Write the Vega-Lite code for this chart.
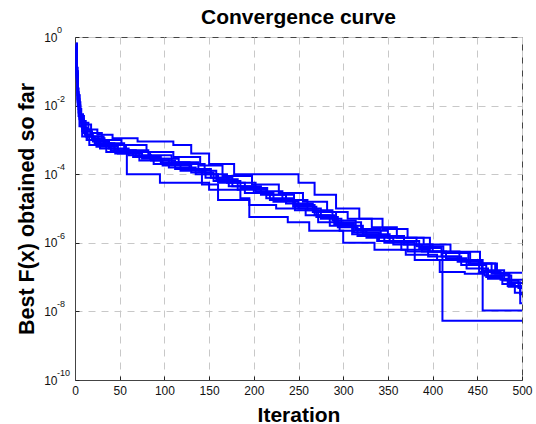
{
  "$schema": "https://vega.github.io/schema/vega-lite/v6.json",
  "width": 447,
  "height": 343,
  "autosize": "none",
  "padding": {"left": 75, "top": 37, "right": 14, "bottom": 44},
  "background": "white",
  "config": {
    "view": {"stroke": "#444444", "strokeWidth": 1},
    "font": "Liberation Sans"
  },
  "title": {
    "text": "Convergence curve",
    "font": "Liberation Sans",
    "fontSize": 21,
    "fontWeight": "bold",
    "color": "black",
    "anchor": "middle",
    "frame": "group",
    "baseline": "alphabetic",
    "offset": 8,
    "dy": 27
  },
  "datasets": {
    "runs": [
      {"run":1,"iter":1,"f":0.562},{"run":1,"iter":2,"f":0.0631},{"run":1,"iter":3,"f":0.0158},{"run":1,"iter":4,"f":0.00631},{"run":1,"iter":6,"f":0.00316},{"run":1,"iter":9,"f":0.00158},{"run":1,"iter":14,"f":0.001},{"run":1,"iter":28,"f":5.62e-4},{"run":1,"iter":45,"f":3.98e-4},{"run":1,"iter":72,"f":2.51e-4},{"run":1,"iter":98,"f":1.78e-4},{"run":1,"iter":130,"f":1.12e-4},{"run":1,"iter":155,"f":6.31e-5},{"run":1,"iter":185,"f":3.98e-5},{"run":1,"iter":215,"f":2.51e-5},{"run":1,"iter":245,"f":1.26e-5},{"run":1,"iter":268,"f":6.31e-6},{"run":1,"iter":290,"f":3.55e-6},{"run":1,"iter":312,"f":2.0e-6},{"run":1,"iter":340,"f":1.12e-6},{"run":1,"iter":372,"f":5.62e-7},{"run":1,"iter":411,"f":5.37e-9},{"run":1,"iter":500,"f":5.37e-9},
      {"run":2,"iter":1,"f":0.631},{"run":2,"iter":2,"f":0.1},{"run":2,"iter":3,"f":0.02},{"run":2,"iter":5,"f":0.00501},{"run":2,"iter":7,"f":0.00251},{"run":2,"iter":12,"f":0.00126},{"run":2,"iter":22,"f":7.94e-4},{"run":2,"iter":40,"f":5.01e-4},{"run":2,"iter":58,"f":1.0e-4},{"run":2,"iter":95,"f":5.62e-5},{"run":2,"iter":150,"f":3.55e-5},{"run":2,"iter":185,"f":2.0e-5},{"run":2,"iter":195,"f":5.62e-6},{"run":2,"iter":238,"f":3.98e-6},{"run":2,"iter":262,"f":2.24e-6},{"run":2,"iter":300,"f":1.0e-6},{"run":2,"iter":335,"f":6.31e-7},{"run":2,"iter":370,"f":4.47e-7},{"run":2,"iter":405,"f":3.16e-7},{"run":2,"iter":456,"f":1.07e-8},{"run":2,"iter":500,"f":1.07e-8},
      {"run":3,"iter":1,"f":0.631},{"run":3,"iter":2,"f":0.0794},{"run":3,"iter":3,"f":0.0251},{"run":3,"iter":4,"f":0.01},{"run":3,"iter":6,"f":0.00501},{"run":3,"iter":10,"f":0.00282},{"run":3,"iter":18,"f":0.00158},{"run":3,"iter":30,"f":0.001},{"run":3,"iter":52,"f":7.08e-4},{"run":3,"iter":80,"f":4.47e-4},{"run":3,"iter":110,"f":3.16e-4},{"run":3,"iter":140,"f":1.78e-4},{"run":3,"iter":165,"f":8.91e-5},{"run":3,"iter":198,"f":5.01e-5},{"run":3,"iter":228,"f":2.82e-5},{"run":3,"iter":255,"f":1.58e-5},{"run":3,"iter":282,"f":7.94e-6},{"run":3,"iter":305,"f":5.01e-6},{"run":3,"iter":332,"f":2.82e-6},{"run":3,"iter":360,"f":1.41e-6},{"run":3,"iter":390,"f":8.91e-7},{"run":3,"iter":420,"f":5.01e-7},{"run":3,"iter":440,"f":2.51e-7},{"run":3,"iter":470,"f":1.26e-7},{"run":3,"iter":485,"f":5.25e-8},{"run":3,"iter":498,"f":1.74e-8},{"run":3,"iter":500,"f":1.74e-8},
      {"run":4,"iter":1,"f":0.501},{"run":4,"iter":2,"f":0.0501},{"run":4,"iter":3,"f":0.01},{"run":4,"iter":5,"f":0.00251},{"run":4,"iter":8,"f":0.00126},{"run":4,"iter":16,"f":7.08e-4},{"run":4,"iter":35,"f":4.47e-4},{"run":4,"iter":65,"f":3.16e-4},{"run":4,"iter":88,"f":2.0e-4},{"run":4,"iter":118,"f":1.26e-4},{"run":4,"iter":146,"f":7.94e-5},{"run":4,"iter":172,"f":4.47e-5},{"run":4,"iter":200,"f":2.82e-5},{"run":4,"iter":222,"f":1.58e-5},{"run":4,"iter":250,"f":1.0e-5},{"run":4,"iter":275,"f":5.01e-6},{"run":4,"iter":298,"f":3.16e-6},{"run":4,"iter":322,"f":1.78e-6},{"run":4,"iter":352,"f":1.12e-6},{"run":4,"iter":385,"f":7.08e-7},{"run":4,"iter":410,"f":3.98e-7},{"run":4,"iter":432,"f":2.24e-7},{"run":4,"iter":460,"f":1.0e-7},{"run":4,"iter":478,"f":6.31e-8},{"run":4,"iter":492,"f":3.47e-8},{"run":4,"iter":500,"f":3.47e-8},
      {"run":5,"iter":1,"f":0.562},{"run":5,"iter":2,"f":0.126},{"run":5,"iter":3,"f":0.0316},{"run":5,"iter":4,"f":0.0126},{"run":5,"iter":6,"f":0.00562},{"run":5,"iter":9,"f":0.00316},{"run":5,"iter":15,"f":0.002},{"run":5,"iter":25,"f":0.00141},{"run":5,"iter":42,"f":0.00112},{"run":5,"iter":70,"f":8.91e-4},{"run":5,"iter":110,"f":7.08e-4},{"run":5,"iter":130,"f":3.98e-4},{"run":5,"iter":150,"f":2.0e-4},{"run":5,"iter":178,"f":1.0e-4},{"run":5,"iter":250,"f":5.62e-5},{"run":5,"iter":268,"f":2.51e-5},{"run":5,"iter":292,"f":1.0e-5},{"run":5,"iter":318,"f":5.01e-6},{"run":5,"iter":344,"f":2.51e-6},{"run":5,"iter":372,"f":1.41e-6},{"run":5,"iter":397,"f":5.5e-7},{"run":5,"iter":453,"f":2.51e-7},{"run":5,"iter":472,"f":1.35e-7},{"run":5,"iter":500,"f":1.35e-7},
      {"run":6,"iter":1,"f":0.631},{"run":6,"iter":2,"f":0.1},{"run":6,"iter":3,"f":0.0158},{"run":6,"iter":5,"f":0.00398},{"run":6,"iter":8,"f":0.00178},{"run":6,"iter":13,"f":0.001},{"run":6,"iter":24,"f":6.31e-4},{"run":6,"iter":48,"f":3.98e-4},{"run":6,"iter":75,"f":2.82e-4},{"run":6,"iter":105,"f":1.58e-4},{"run":6,"iter":135,"f":1.0e-4},{"run":6,"iter":160,"f":5.62e-5},{"run":6,"iter":190,"f":2.82e-5},{"run":6,"iter":218,"f":1.78e-5},{"run":6,"iter":246,"f":8.91e-6},{"run":6,"iter":272,"f":3.98e-6},{"run":6,"iter":296,"f":2.24e-6},{"run":6,"iter":326,"f":1.41e-6},{"run":6,"iter":356,"f":8.91e-7},{"run":6,"iter":388,"f":5.62e-7},{"run":6,"iter":415,"f":3.55e-7},{"run":6,"iter":438,"f":1.78e-7},{"run":6,"iter":462,"f":8.91e-8},{"run":6,"iter":484,"f":5.5e-8},{"run":6,"iter":500,"f":5.5e-8},
      {"run":7,"iter":1,"f":0.501},{"run":7,"iter":2,"f":0.0631},{"run":7,"iter":3,"f":0.0126},{"run":7,"iter":4,"f":0.00501},{"run":7,"iter":7,"f":0.00251},{"run":7,"iter":11,"f":0.00141},{"run":7,"iter":20,"f":8.91e-4},{"run":7,"iter":38,"f":5.62e-4},{"run":7,"iter":60,"f":3.55e-4},{"run":7,"iter":85,"f":2.51e-4},{"run":7,"iter":112,"f":1.41e-4},{"run":7,"iter":142,"f":5.01e-5},{"run":7,"iter":160,"f":1.78e-5},{"run":7,"iter":195,"f":1.26e-5},{"run":7,"iter":225,"f":1.0e-5},{"run":7,"iter":258,"f":6.31e-6},{"run":7,"iter":285,"f":3.16e-6},{"run":7,"iter":310,"f":1.78e-6},{"run":7,"iter":338,"f":1.12e-6},{"run":7,"iter":365,"f":6.31e-7},{"run":7,"iter":395,"f":3.98e-7},{"run":7,"iter":428,"f":2.82e-7},{"run":7,"iter":452,"f":1.41e-7},{"run":7,"iter":476,"f":8.32e-8},{"run":7,"iter":500,"f":8.32e-8},
      {"run":8,"iter":1,"f":0.562},{"run":8,"iter":2,"f":0.0794},{"run":8,"iter":3,"f":0.02},{"run":8,"iter":5,"f":0.00794},{"run":8,"iter":7,"f":0.00355},{"run":8,"iter":12,"f":0.00178},{"run":8,"iter":19,"f":0.00112},{"run":8,"iter":33,"f":7.94e-4},{"run":8,"iter":55,"f":5.01e-4},{"run":8,"iter":82,"f":3.55e-4},{"run":8,"iter":108,"f":2.24e-4},{"run":8,"iter":138,"f":1.26e-4},{"run":8,"iter":158,"f":7.08e-5},{"run":8,"iter":182,"f":3.55e-5},{"run":8,"iter":214,"f":2.0e-5},{"run":8,"iter":244,"f":1.12e-5},{"run":8,"iter":270,"f":5.62e-6},{"run":8,"iter":294,"f":2.82e-6},{"run":8,"iter":316,"f":1.58e-6},{"run":8,"iter":346,"f":1.0e-6},{"run":8,"iter":380,"f":3.16e-7},{"run":8,"iter":408,"f":1.41e-7},{"run":8,"iter":436,"f":1.26e-7},{"run":8,"iter":458,"f":1.12e-7},{"run":8,"iter":488,"f":6.76e-8},{"run":8,"iter":500,"f":6.76e-8},
      {"run":9,"iter":1,"f":0.631},{"run":9,"iter":2,"f":0.0891},{"run":9,"iter":3,"f":0.0224},{"run":9,"iter":4,"f":0.00794},{"run":9,"iter":6,"f":0.00398},{"run":9,"iter":10,"f":0.002},{"run":9,"iter":17,"f":0.00126},{"run":9,"iter":32,"f":7.08e-4},{"run":9,"iter":57,"f":4.47e-4},{"run":9,"iter":84,"f":2.82e-4},{"run":9,"iter":116,"f":2.0e-4},{"run":9,"iter":145,"f":1.0e-4},{"run":9,"iter":170,"f":5.62e-5},{"run":9,"iter":202,"f":3.16e-5},{"run":9,"iter":232,"f":1.78e-5},{"run":9,"iter":260,"f":8.91e-6},{"run":9,"iter":288,"f":4.47e-6},{"run":9,"iter":314,"f":2.51e-6},{"run":9,"iter":342,"f":1.58e-6},{"run":9,"iter":368,"f":8.91e-7},{"run":9,"iter":400,"f":5.62e-7},{"run":9,"iter":430,"f":3.16e-7},{"run":9,"iter":455,"f":1.58e-7},{"run":9,"iter":480,"f":7.94e-8},{"run":9,"iter":496,"f":4.79e-8},{"run":9,"iter":500,"f":4.79e-8},
      {"run":10,"iter":1,"f":0.501},{"run":10,"iter":2,"f":0.0708},{"run":10,"iter":3,"f":0.0141},{"run":10,"iter":5,"f":0.00447},{"run":10,"iter":8,"f":0.00224},{"run":10,"iter":14,"f":0.00126},{"run":10,"iter":26,"f":7.94e-4},{"run":10,"iter":44,"f":5.01e-4},{"run":10,"iter":68,"f":3.16e-4},{"run":10,"iter":96,"f":2.24e-4},{"run":10,"iter":128,"f":1.41e-4},{"run":10,"iter":152,"f":7.94e-5},{"run":10,"iter":176,"f":4.47e-5},{"run":10,"iter":208,"f":2.51e-5},{"run":10,"iter":236,"f":1.41e-5},{"run":10,"iter":266,"f":7.94e-6},{"run":10,"iter":292,"f":3.98e-6},{"run":10,"iter":320,"f":2.24e-6},{"run":10,"iter":350,"f":1.41e-6},{"run":10,"iter":382,"f":7.94e-7},{"run":10,"iter":412,"f":5.01e-7},{"run":10,"iter":442,"f":2.51e-7},{"run":10,"iter":466,"f":1.26e-7},{"run":10,"iter":486,"f":7.08e-8},{"run":10,"iter":498,"f":3.16e-8},{"run":10,"iter":500,"f":3.16e-8}
    ],
    "exponents": [
      {"tick":1,"exp":"0"},{"tick":0.01,"exp":"-2"},{"tick":0.0001,"exp":"-4"},{"tick":1e-6,"exp":"-6"},{"tick":1e-8,"exp":"-8"},{"tick":1e-10,"exp":"-10"}
    ]
  },
  "layer": [
    {
      "data": {"name": "runs"},
      "mark": {"type": "line", "interpolate": "step-after", "color": "#0000ff", "strokeWidth": 2, "clip": true},
      "encoding": {
        "detail": {"field": "run", "type": "nominal"},
        "x": {
          "field": "iter",
          "type": "quantitative",
          "scale": {"domain": [0, 500], "nice": false, "zero": false},
          "axis": {
            "values": [0, 50, 100, 150, 200, 250, 300, 350, 400, 450, 500],
            "format": "d",
            "title": "Iteration",
            "titleFont": "Liberation Sans",
            "titleFontSize": 21,
            "titleFontWeight": "bold",
            "titleColor": "black",
            "titleBaseline": "alphabetic",
            "titleY": 41,
            "labelFont": "Liberation Sans",
            "labelFontSize": 12,
            "labelColor": "#111111",
            "labelPadding": 9,
            "labelFlush": false,
            "ticks": true,
            "tickSize": -4,
            "tickColor": "#222222",
            "grid": true,
            "gridColor": "#c8c8c8",
            "gridDash": [7, 6],
            "gridWidth": 1,
            "domainColor": "#444444"
          }
        },
        "y": {
          "field": "f",
          "type": "quantitative",
          "scale": {"type": "log", "domain": [1e-10, 1], "nice": false},
          "axis": {
            "values": [1e-10, 1e-8, 1e-6, 1e-4, 1e-2, 1],
            "labelExpr": "'10'",
            "title": "Best F(x) obtained so far",
            "titleFont": "Liberation Sans",
            "titleFontSize": 21.5,
            "titleFontWeight": "bold",
            "titleColor": "black",
            "titleX": -42,
            "titleY": 171.5,
            "titleAngle": -90,
            "titleAlign": "center",
            "titleBaseline": "alphabetic",
            "labelFont": "Liberation Sans",
            "labelFontSize": 12,
            "labelColor": "#111111",
            "labelPadding": 22,
            "labelBaseline": "middle",
            "labelFlush": false,
            "ticks": true,
            "tickSize": -4,
            "tickColor": "#222222",
            "grid": true,
            "gridColor": "#c8c8c8",
            "gridDash": [7, 6],
            "gridWidth": 1,
            "domainColor": "#444444"
          }
        }
      }
    },
    {
      "data": {"name": "exponents"},
      "mark": {"type": "text", "align": "left", "baseline": "alphabetic", "dx": -18, "dy": -4, "fontSize": 9, "font": "Liberation Sans", "color": "#111111"},
      "encoding": {
        "x": {"datum": 0, "type": "quantitative"},
        "y": {"field": "tick", "type": "quantitative"},
        "text": {"field": "exp", "type": "nominal"}
      }
    }
  ]
}
